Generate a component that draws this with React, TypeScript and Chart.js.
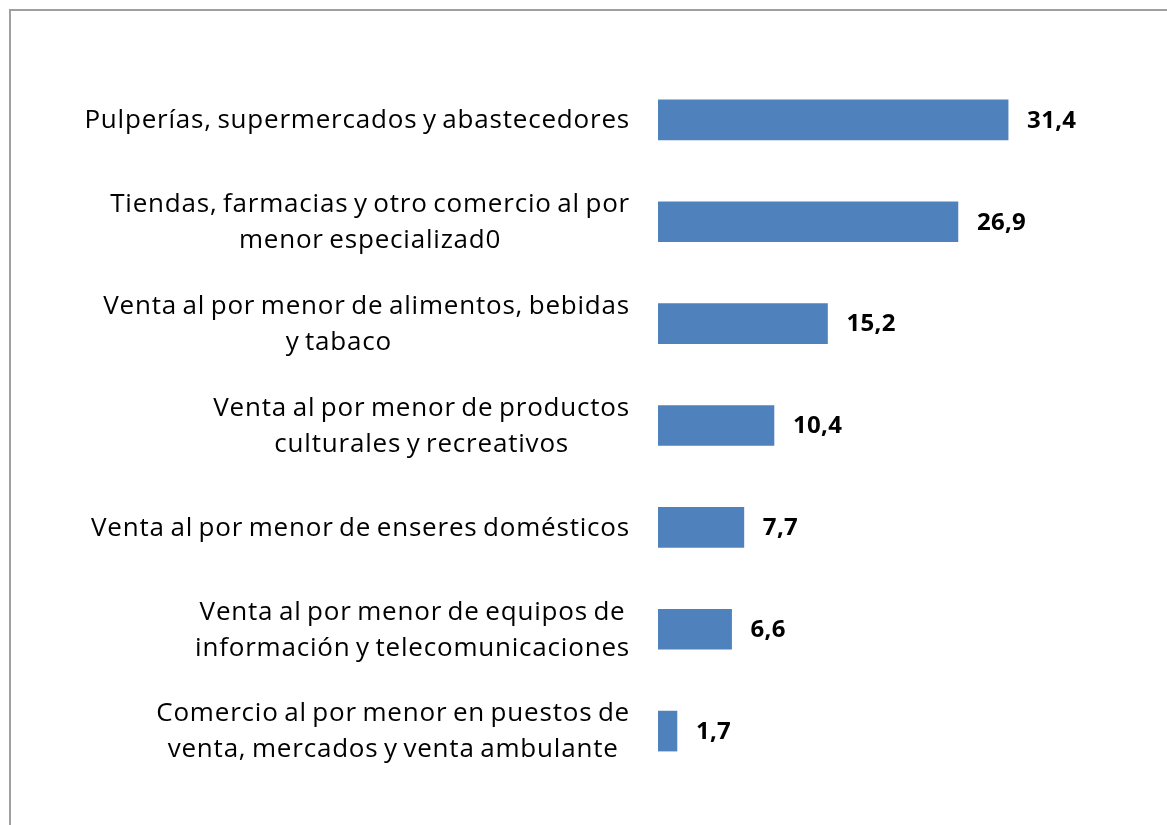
import React, { useEffect, useRef } from "react";
import { Chart, registerables } from "chart.js";

Chart.register(...registerables);

const categories: string[][] = [
  ["Pulperías, supermercados y abastecedores"],
  ["Tiendas, farmacias y otro comercio al por", "menor especializad0"],
  ["Venta al por menor de alimentos, bebidas", "y tabaco          "],
  ["Venta al por menor de productos", "culturales y recreativos"],
  ["Venta al por menor de enseres domésticos"],
  ["Venta al por menor de equipos de", "información y telecomunicaciones"],
  ["Comercio al por menor en puestos de", "venta, mercados y venta ambulante"],
];
const values: number[] = [31.4, 26.9, 15.2, 10.4, 7.7, 6.6, 1.7];
const valueLabels: string[] = ["31,4", "26,9", "15,2", "10,4", "7,7", "6,6", "1,7"];

const LABEL_FONT = "26px 'Open Sans', 'Noto Sans', sans-serif";
const VALUE_FONT = "bold 24px 'Open Sans', 'Noto Sans', sans-serif";

const customDraw = {
  id: "customDraw",
  beforeDraw(chart: any) {
    const ctx = chart.ctx;
    ctx.save();
    ctx.fillStyle = "#ffffff";
    ctx.fillRect(0, 0, chart.width, chart.height);
    ctx.strokeStyle = "#a0a0a0";
    ctx.lineWidth = 2;
    ctx.beginPath();
    ctx.moveTo(10, chart.height + 5);
    ctx.lineTo(10, 10);
    ctx.lineTo(chart.width + 5, 10);
    ctx.stroke();
    ctx.restore();
  },
  afterDatasetsDraw(chart: any) {
    const ctx = chart.ctx;
    const yScale = chart.scales.y;
    const meta = chart.getDatasetMeta(0);
    ctx.save();
    ctx.fillStyle = "#000000";
    ctx.textBaseline = "middle";
    ctx.font = LABEL_FONT;
    (ctx as any).letterSpacing = "0.8px";
    (ctx as any).wordSpacing = "-2px";
    const lineH = 36;
    const rightX = 630;
    categories.forEach((lines, i) => {
      const cy = yScale.getPixelForValue(i) + 1;
      const widths = lines.map((l) => ctx.measureText(l).width);
      const maxW = Math.max(...widths);
      const centerX = rightX - maxW / 2;
      const startY = cy - ((lines.length - 1) * lineH) / 2;
      ctx.textAlign = "center";
      lines.forEach((l, j) => {
        ctx.fillText(l, centerX, startY + j * lineH);
      });
    });
    ctx.font = VALUE_FONT;
    (ctx as any).letterSpacing = "0.3px";
    (ctx as any).wordSpacing = "0px";
    ctx.textAlign = "left";
    meta.data.forEach((bar: any, i: number) => {
      ctx.fillText(valueLabels[i], bar.x + 19, bar.y + 1);
    });
    ctx.restore();
  },
};

export default function App() {
  const ref = useRef<HTMLCanvasElement | null>(null);
  useEffect(() => {
    if (!ref.current) return;
    const chart = new Chart(ref.current, {
      type: "bar",
      data: {
        labels: categories.map((c) => c.join(" ").trim()),
        datasets: [
          {
            data: values,
            backgroundColor: "#4f81bd",
            borderColor: "#4f81bd",
            borderWidth: 0,
            barThickness: 40,
          },
        ],
      },
      options: {
        indexAxis: "y",
        responsive: false,
        animation: false,
        devicePixelRatio: 1,
        layout: { padding: { top: 69, bottom: 43, left: 0, right: 63 } },
        plugins: {
          legend: { display: false },
          tooltip: { enabled: false },
          title: { display: false },
        },
        scales: {
          x: {
            display: false,
            min: 0,
            max: 40,
          },
          y: {
            display: true,
            grid: { display: false, drawTicks: false },
            border: { display: false },
            ticks: { display: false },
            afterFit(scale: any) {
              scale.width = 658;
            },
          },
        },
      },
      plugins: [customDraw],
    });
    return () => chart.destroy();
  }, []);
  return (
    <div style={{ position: "fixed", left: 0, top: 0, width: 1167, height: 825, overflow: "hidden" }}>
      <canvas ref={ref} width={1167} height={825} style={{ display: "block" }} />
    </div>
  );
}
